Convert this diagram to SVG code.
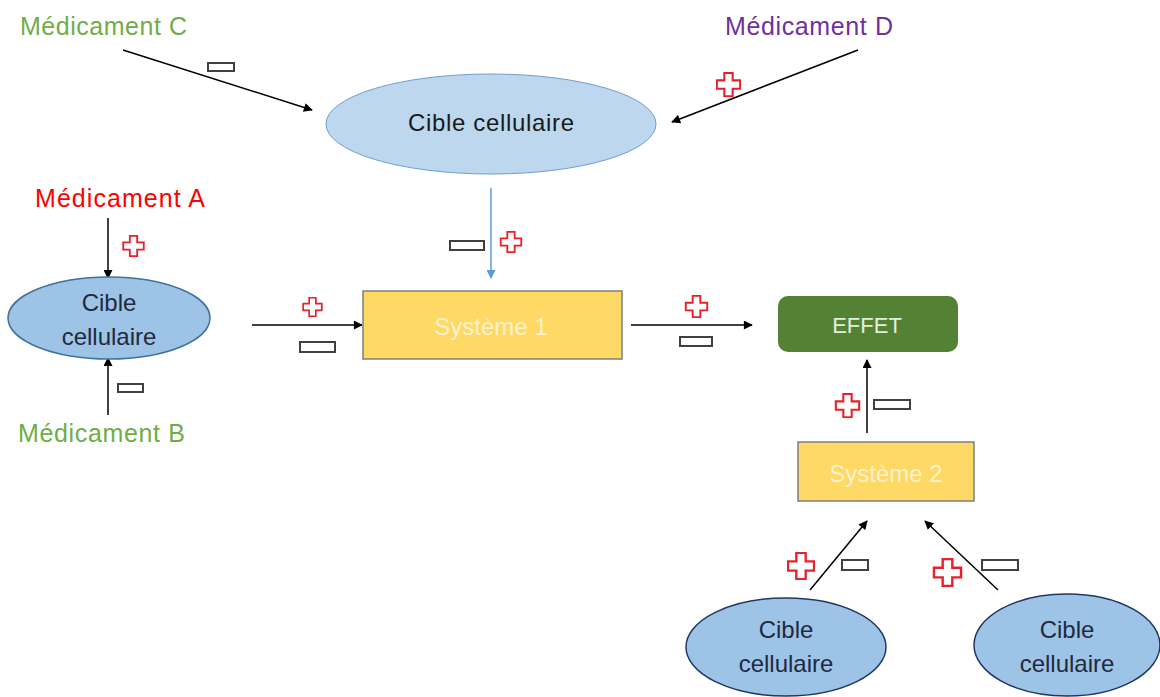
<svg xmlns="http://www.w3.org/2000/svg" xmlns:xlink="http://www.w3.org/1999/xlink" width="1160" height="697" viewBox="0 0 1160 697">
<style>
text{font-family:"Liberation Sans",Arial,sans-serif;font-size:24px;text-anchor:middle}
.lbl{text-anchor:start;font-size:25px}
.dark{fill:#1f2a40}
.arr{stroke:#000;stroke-width:1.5;fill:none;marker-end:url(#ah)}
.minus{fill:#fff;stroke:#404040;stroke-width:2}
</style>
<defs>
<marker id="ah" viewBox="0 0 10 10" refX="9" refY="5" markerWidth="10" markerHeight="9" markerUnits="userSpaceOnUse" orient="auto">
<path d="M0,0 L10,5 L0,10 z" fill="#000"/>
</marker>
<marker id="ahb" viewBox="0 0 10 10" refX="9" refY="5" markerWidth="10" markerHeight="9" markerUnits="userSpaceOnUse" orient="auto">
<path d="M0,0 L10,5 L0,10 z" fill="#5b9bd5"/>
</marker>
<symbol id="plus" viewBox="0 0 30 30">
<path d="M10,1 H20 V10 H29 V20 H20 V29 H10 V20 H1 V10 H10 z" fill="#fff" stroke="#e8202a" stroke-width="2.5"/>
</symbol>
</defs>

<g id="connectors">
<line class="arr" x1="123" y1="50" x2="312" y2="110"/>
<line class="arr" x1="858" y1="50" x2="672" y2="122"/>
<line x1="491" y1="188" x2="491" y2="278" stroke="#5b9bd5" stroke-width="1.5" marker-end="url(#ahb)"/>
<line class="arr" x1="108" y1="218" x2="108" y2="278"/>
<line class="arr" x1="108" y1="415" x2="108" y2="358"/>
<line class="arr" x1="252" y1="325" x2="362" y2="325"/>
<line class="arr" x1="631" y1="325" x2="752" y2="325"/>
<line class="arr" x1="867" y1="433" x2="867" y2="360"/>
<line class="arr" x1="810" y1="590" x2="867" y2="521"/>
<line class="arr" x1="998" y1="590" x2="925" y2="521"/>
</g>

<g id="signs">
<rect class="minus" x="208" y="63" width="26" height="8"/>
<use xlink:href="#plus" x="716" y="72" width="25" height="25"/>
<rect class="minus" x="450" y="241" width="34" height="9"/>
<use xlink:href="#plus" x="497" y="231" width="28" height="22"/>
<use xlink:href="#plus" x="122" y="235" width="23" height="22"/>
<rect class="minus" x="118" y="384" width="25" height="8"/>
<use xlink:href="#plus" x="300" y="297" width="25" height="20"/>
<rect class="minus" x="300" y="342" width="35" height="10"/>
<use xlink:href="#plus" x="680" y="295" width="33" height="23"/>
<rect class="minus" x="680" y="337" width="32" height="9"/>
<use xlink:href="#plus" x="833" y="393" width="29" height="25"/>
<rect class="minus" x="874" y="400" width="36" height="9"/>
<use xlink:href="#plus" x="787" y="552" width="28" height="28"/>
<rect class="minus" x="842" y="560" width="26" height="10"/>
<use xlink:href="#plus" x="932" y="558" width="31" height="29"/>
<rect class="minus" x="982" y="560" width="36" height="10"/>
</g>

<g id="medC"><text class="lbl" x="20" y="35" fill="#70ad47" textLength="167">Médicament C</text></g>
<g id="medD"><text class="lbl" x="725" y="35" fill="#7030a0" textLength="168">Médicament D</text></g>
<g id="medA"><text class="lbl" x="35" y="207" fill="#ff0000" textLength="170">Médicament A</text></g>
<g id="medB"><text class="lbl" x="18" y="442" fill="#70ad47" textLength="167">Médicament B</text></g>

<g id="cibleTop">
<ellipse cx="491" cy="124" rx="165" ry="50" fill="#bdd7ee" stroke="#6f9fcf" stroke-width="1"/>
<text x="491" y="131" fill="#1a1a1a" textLength="166">Cible cellulaire</text>
</g>

<g id="cibleLeft">
<ellipse cx="109" cy="318" rx="101" ry="41" fill="#9dc3e6" stroke="#41719c" stroke-width="1.5"/>
<text class="dark" x="109" y="311">Cible</text>
<text class="dark" x="109" y="345">cellulaire</text>
</g>

<g id="systeme1">
<rect x="363" y="291" width="259" height="68" fill="#ffd966" stroke="#7f7f7f" stroke-width="1.5"/>
<text x="491" y="335" fill="#fff2cc">Système 1</text>
</g>

<g id="effet">
<rect x="778" y="296" width="180" height="56" rx="10" fill="#548235"/>
<text x="867" y="333" fill="#e2f0d9" style="font-size:22px">EFFET</text>
</g>

<g id="systeme2">
<rect x="798" y="442" width="176" height="59" fill="#ffd966" stroke="#7f7f7f" stroke-width="1.5"/>
<text x="886" y="482" fill="#fff2cc">Système 2</text>
</g>

<g id="cibleBL">
<ellipse cx="786" cy="647" rx="100" ry="49" fill="#9dc3e6" stroke="#203864" stroke-width="1.5"/>
<text class="dark" x="786" y="638">Cible</text>
<text class="dark" x="786" y="672">cellulaire</text>
</g>

<g id="cibleBR">
<ellipse cx="1067" cy="645" rx="93" ry="51" fill="#9dc3e6" stroke="#203864" stroke-width="1.5"/>
<text class="dark" x="1067" y="638">Cible</text>
<text class="dark" x="1067" y="672">cellulaire</text>
</g>
</svg>
